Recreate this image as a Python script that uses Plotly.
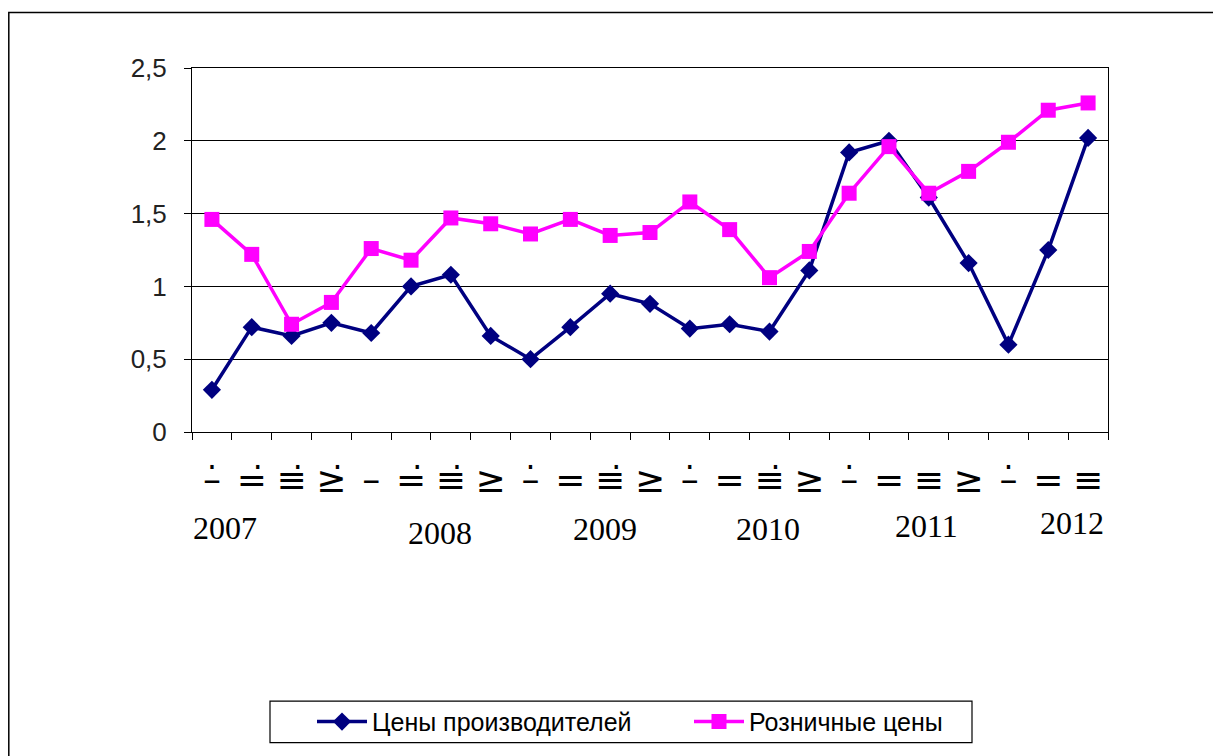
import plotly.graph_objects as go

categories = ["2007 I", "2007 II", "2007 III", "2007 IV",
              "2008 I", "2008 II", "2008 III", "2008 IV",
              "2009 I", "2009 II", "2009 III", "2009 IV",
              "2010 I", "2010 II", "2010 III", "2010 IV",
              "2011 I", "2011 II", "2011 III", "2011 IV",
              "2012 I", "2012 II", "2012 III"]
tick_labels = ["–\u0307", "=\u0307", "≡\u0307", "≥\u0307",
               "–", "=\u0307", "≡\u0307", "≥",
               "–\u0307", "=", "≡\u0307", "≥",
               "–\u0307", "=", "≡\u0307", "≥",
               "–\u0307", "=", "≡", "≥",
               "–\u0307", "=", "≡"]
producer = [0.29, 0.72, 0.66, 0.75, 0.68, 1.00, 1.08, 0.66, 0.50, 0.72, 0.95, 0.88,
            0.71, 0.74, 0.69, 1.11, 1.92, 2.00, 1.61, 1.16, 0.60, 1.25, 2.02]
retail = [1.46, 1.22, 0.74, 0.89, 1.26, 1.18, 1.47, 1.43, 1.36, 1.46, 1.35, 1.37,
          1.58, 1.39, 1.06, 1.24, 1.64, 1.96, 1.64, 1.79, 1.99, 2.21, 2.26]
y_ticks = [0, 0.5, 1, 1.5, 2, 2.5]
y_tick_text = ["0", "0,5", "1", "1,5", "2", "2,5"]
years = ["2007", "2008", "2009", "2010", "2011", "2012"]
year_pos = [0.33, 5.73, 9.88, 13.97, 17.94, 21.6]
year_dy = [-96, -101, -97, -97, -94, -91]

fig = go.Figure()
fig.add_trace(go.Scatter(
    x=categories, y=producer, name="Цены производителей", mode="lines+markers",
    line=dict(color="#000080", width=3.5),
    marker=dict(symbol="diamond", size=14, color="#000080")))
fig.add_trace(go.Scatter(
    x=categories, y=retail, name="Розничные цены", mode="lines+markers",
    line=dict(color="#FF00FF", width=3.5),
    marker=dict(symbol="square", size=15, color="#FF00FF")))

OFF = 8  # page offset of the figure
L, R, T, B = 192 - OFF, 1108 - OFF, 68 - OFF, 436 - OFF
W, H = 1221 - OFF, 756 - OFF
pw, ph = R - L, B - T

def px(xs):
    return (xs - OFF - L) / pw

def py(ys):
    return (B - (ys - OFF)) / ph

for yr, xpos, dy in zip(years, year_pos, year_dy):
    fig.add_annotation(x=xpos, y=0, xref="x", yref="paper", text=yr, showarrow=False,
                       yanchor="middle", xanchor="center", yshift=dy,
                       font=dict(family="Liberation Serif", size=32, color="black"))

# outer frame
fig.add_shape(type="rect", xref="paper", yref="paper",
              x0=px(8.8), x1=px(1219), y0=py(770), y1=py(12),
              line=dict(color="black", width=1.5), layer="below")
# legend frame
fig.add_shape(type="rect", xref="paper", yref="paper",
              x0=px(270), x1=px(972), y0=py(750), y1=py(708),
              line=dict(color="black", width=1.2), layer="below")

fig.update_layout(
    width=W, height=H,
    margin=dict(l=L, r=W - R, t=T, b=H - B),
    paper_bgcolor="white", plot_bgcolor="white",
    showlegend=True,
    legend=dict(orientation="h", x=px(312), y=py(729), xanchor="left", yanchor="middle",
                bgcolor="rgba(0,0,0,0)", borderwidth=0,
                font=dict(family="Liberation Sans", size=25, color="black"),
                entrywidth=312, entrywidthmode="pixels", itemwidth=50),
    xaxis=dict(type="category", tickmode="array", tickvals=categories, ticktext=tick_labels,
               showline=True, linecolor="black", linewidth=1, mirror=True,
               ticks="outside", tickson="boundaries", ticklen=7, tickcolor="black",
               showgrid=False, tickangle=0,
               tickfont=dict(family="DejaVu Sans", size=36, color="black"),
               ticklabelstandoff=16,
               range=[-0.5, len(categories) - 0.5]),
    yaxis=dict(range=[0, 2.5], tickmode="array", tickvals=y_ticks, ticktext=y_tick_text,
               showline=True, linecolor="black", linewidth=1, mirror=True,
               ticks="outside", ticklen=7, tickcolor="black",
               showgrid=True, gridcolor="black", gridwidth=1, zeroline=False,
               tickfont=dict(family="Liberation Sans", size=26, color="#222"),
               ticklabelstandoff=12),
)

fig.write_html("out.html")
